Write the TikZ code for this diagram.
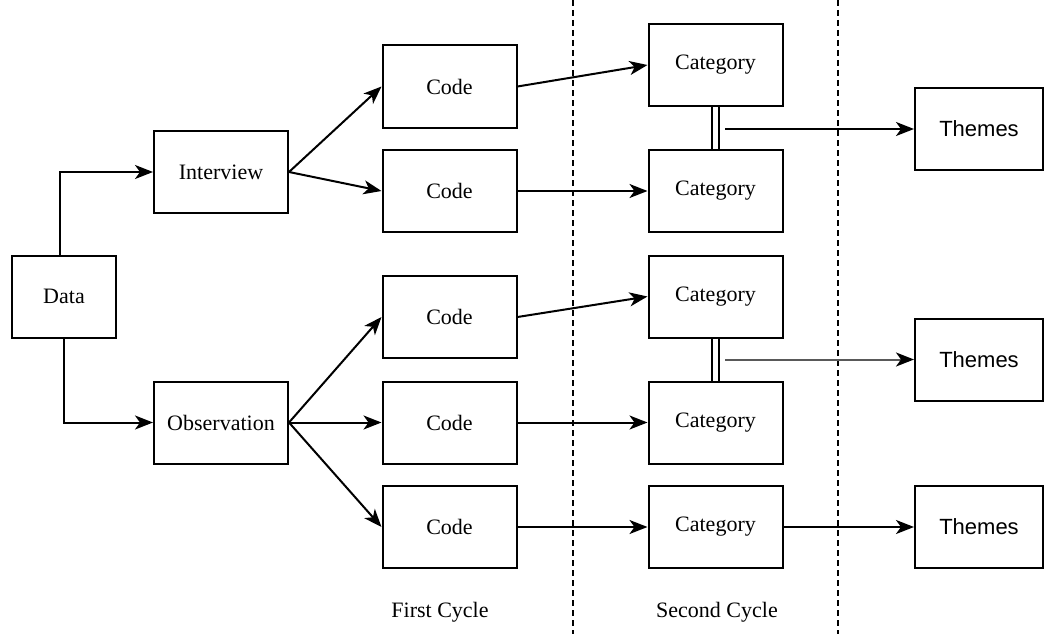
\documentclass[tikz,border=0pt]{standalone}
\usepackage{fontspec}
\setmainfont{Liberation Serif}
\newfontfamily\themefont{Liberation Sans}
\usetikzlibrary{arrows.meta}
\begin{document}
\begin{tikzpicture}[x=1pt,y=-1pt,
	box/.style={draw, line width=2pt, minimum width=134pt, minimum height=82pt, inner sep=0pt, font=\fontsize{22}{26}\selectfont},
	arrow/.style={line width=2pt, -{Stealth[length=18pt,width=14pt,inset=5pt]}},
	cycle line/.style={line width=1.5pt, dash pattern=on 6pt off 4pt},
	link/.style={double, double distance=5pt, line width=1.8pt}]
			\useasboundingbox (0,0) rectangle (1044,634);
			\node (data)[box, minimum width=104pt]at (64,296.5)  {Data};
			\node (interview)[box]at (221,172)  {Interview};
			\node (observation)[box]at (221,422.5)  {Observation};

			\node (code1)[box]at (449.5,86.5)  {Code};
			\node (code2)[box]at (449.5,191)  {Code};
			\node (code3)[box]at (449.5,317)  {Code};
			\node (code4)[box]at (449.5,422.5)  {Code};
			\node (code5)[box]at (449.5,527)  {Code};

			\node (cat1)[box]at (715.5,65)  {Category};
			\node (cat2)[box]at (715.5,191)  {Category};
			\node (cat3)[box]at (715.5,296.5)  {Category};
			\node (cat4)[box]at (715.5,422.5)  {Category};
			\node (cat5)[box]at (715.5,527)  {Category};

			\node (themes1)[box, minimum width=128pt, font=\themefont\fontsize{22}{26}\selectfont]at (979,129)  {Themes};
			\node (themes2)[box, minimum width=128pt, font=\themefont\fontsize{22}{26}\selectfont]at (979,359.5)  {Themes};
			\node (themes3)[box, minimum width=128pt, font=\themefont\fontsize{22}{26}\selectfont]at (979,527)  {Themes};

			\node (first)[font=\fontsize{22}{26}\selectfont]at (440,612)  {First Cycle};
			\node (second)[font=\fontsize{22}{26}\selectfont]at (717,612)  {Second Cycle};

			\draw[cycle line] (573,0)--(573,634);
			\draw[cycle line] (838,0)--(838,634);

			\draw[arrow] ([xshift=-4pt]data.north) |- (interview.west);
			\draw[arrow] (data.south) |- (observation.west);
			\draw[arrow] (interview.east)--(code1.west);
			\draw[arrow] (interview.east)--(code2.west);
			\draw[arrow] (observation.east)--(code3.west);
			\draw[arrow] (observation.east)--(code4.west);
			\draw[arrow] (observation.east)--(code5.west);
			\draw[arrow] (code1.east)--(cat1.west);
			\draw[arrow] (code2.east)--(cat2.west);
			\draw[arrow] (code3.east)--(cat3.west);
			\draw[arrow] (code4.east)--(cat4.west);
			\draw[arrow] (code5.east)--(cat5.west);
			\draw[arrow] (cat5.east)--(themes3.west);

			\draw[link] (cat1.south)--(cat2.north);
			\draw[link] (cat3.south)--(cat4.north);
			\coordinate (join1) at (725,129);
			\coordinate (join2) at (725,359.5);
			\draw[arrow] (join1)--(themes1.west);
			\draw[arrow, black!65, -{Stealth[length=18pt,width=14pt,inset=5pt,black]}] (join2)--(themes2.west);
		\end{tikzpicture}
\end{document}
